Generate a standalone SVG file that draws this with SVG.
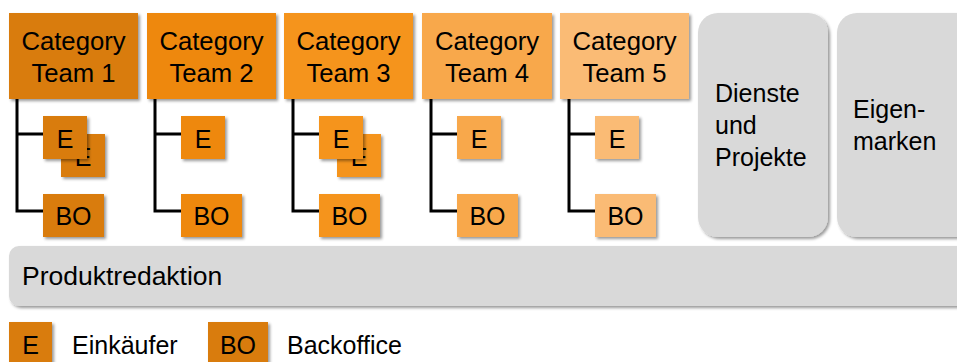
<svg xmlns="http://www.w3.org/2000/svg" width="957" height="362" viewBox="0 0 957 362">
<defs>
<filter id="sh" x="-10%" y="-10%" width="130%" height="130%">
<feDropShadow dx="2" dy="2" stdDeviation="1.5" flood-color="#000" flood-opacity="0.4"/>
</filter>
<style>
text{font-family:"Liberation Sans",Arial,sans-serif;font-size:25px;fill:#000}
.c{text-anchor:middle}
.h{font-size:25.7px}
.box{filter:url(#sh)}
.t1{fill:#D97B0B}.t2{fill:#EE880E}.t3{fill:#F5941F}.t4{fill:#F8A84B}.t5{fill:#FABB75}
.g{fill:#D9D9D9;filter:url(#sh)}
.ln{stroke:#000;stroke-width:3;fill:none}
</style>
</defs>
<rect width="957" height="362" fill="#fff"/>
<g id="connectors">
<path class="ln" d="M17 99V211H43M17 134H43"/>
<path class="ln" d="M155 99V211H181M155 134H181"/>
<path class="ln" d="M293 99V211H319M293 134H319"/>
<path class="ln" d="M431 99V211H457M431 134H457"/>
<path class="ln" d="M569 99V211H595M569 134H595"/>
</g>
<g id="team1">
<rect class="box t1" x="9" y="13" width="129" height="86"/>
<text class="c h" x="73.5" y="50">Category</text><text class="c h" x="73.5" y="82">Team 1</text>
<rect class="box t1" x="61" y="134" width="44" height="43"/><text class="c" x="83" y="166">E</text>
<rect class="box t1" x="43" y="116" width="44" height="43"/><text class="c" x="65" y="148">E</text>
<rect class="box t1" x="43" y="194" width="61" height="43"/><text class="c" x="73.5" y="225">BO</text>
</g>
<g id="team2">
<rect class="box t2" x="147" y="13" width="129" height="86"/>
<text class="c h" x="211.5" y="50">Category</text><text class="c h" x="211.5" y="82">Team 2</text>
<rect class="box t2" x="181" y="116" width="44" height="43"/><text class="c" x="203" y="148">E</text>
<rect class="box t2" x="181" y="194" width="61" height="43"/><text class="c" x="211.5" y="225">BO</text>
</g>
<g id="team3">
<rect class="box t3" x="284" y="13" width="129" height="86"/>
<text class="c h" x="348.5" y="50">Category</text><text class="c h" x="348.5" y="82">Team 3</text>
<rect class="box t3" x="337" y="134" width="44" height="43"/><text class="c" x="359" y="166">E</text>
<rect class="box t3" x="319" y="116" width="44" height="43"/><text class="c" x="341" y="148">E</text>
<rect class="box t3" x="319" y="194" width="61" height="43"/><text class="c" x="349.5" y="225">BO</text>
</g>
<g id="team4">
<rect class="box t4" x="422" y="13" width="130" height="86"/>
<text class="c h" x="487" y="50">Category</text><text class="c h" x="487" y="82">Team 4</text>
<rect class="box t4" x="457" y="116" width="44" height="43"/><text class="c" x="479" y="148">E</text>
<rect class="box t4" x="457" y="194" width="61" height="43"/><text class="c" x="487.5" y="225">BO</text>
</g>
<g id="team5">
<rect class="box t5" x="560" y="13" width="129" height="86"/>
<text class="c h" x="624.5" y="50">Category</text><text class="c h" x="624.5" y="82">Team 5</text>
<rect class="box t5" x="595" y="116" width="44" height="43"/><text class="c" x="617" y="148">E</text>
<rect class="box t5" x="595" y="194" width="61" height="43"/><text class="c" x="625.5" y="225">BO</text>
</g>
<g id="dienste">
<rect class="g" x="698" y="13" width="130" height="224" rx="20"/>
<text x="715" y="102">Dienste</text><text x="715" y="134">und</text><text x="715" y="166">Projekte</text>
</g>
<g id="eigenmarken">
<rect class="g" x="837" y="13" width="140" height="224" rx="20"/>
<text x="853" y="118">Eigen-</text><text x="853" y="150">marken</text>
</g>
<g id="produktredaktion">
<rect class="g" x="9" y="246" width="970" height="60" rx="10"/>
<text x="22" y="285" style="font-size:26.5px">Produktredaktion</text>
</g>
<g id="legend">
<rect class="box t1" x="9" y="322" width="43" height="43"/><text class="c" x="30.5" y="354">E</text>
<text x="72" y="354">Einkäufer</text>
<rect class="box t1" x="208" y="322" width="60" height="43"/><text class="c" x="238" y="354">BO</text>
<text x="287" y="354">Backoffice</text>
</g>
</svg>
